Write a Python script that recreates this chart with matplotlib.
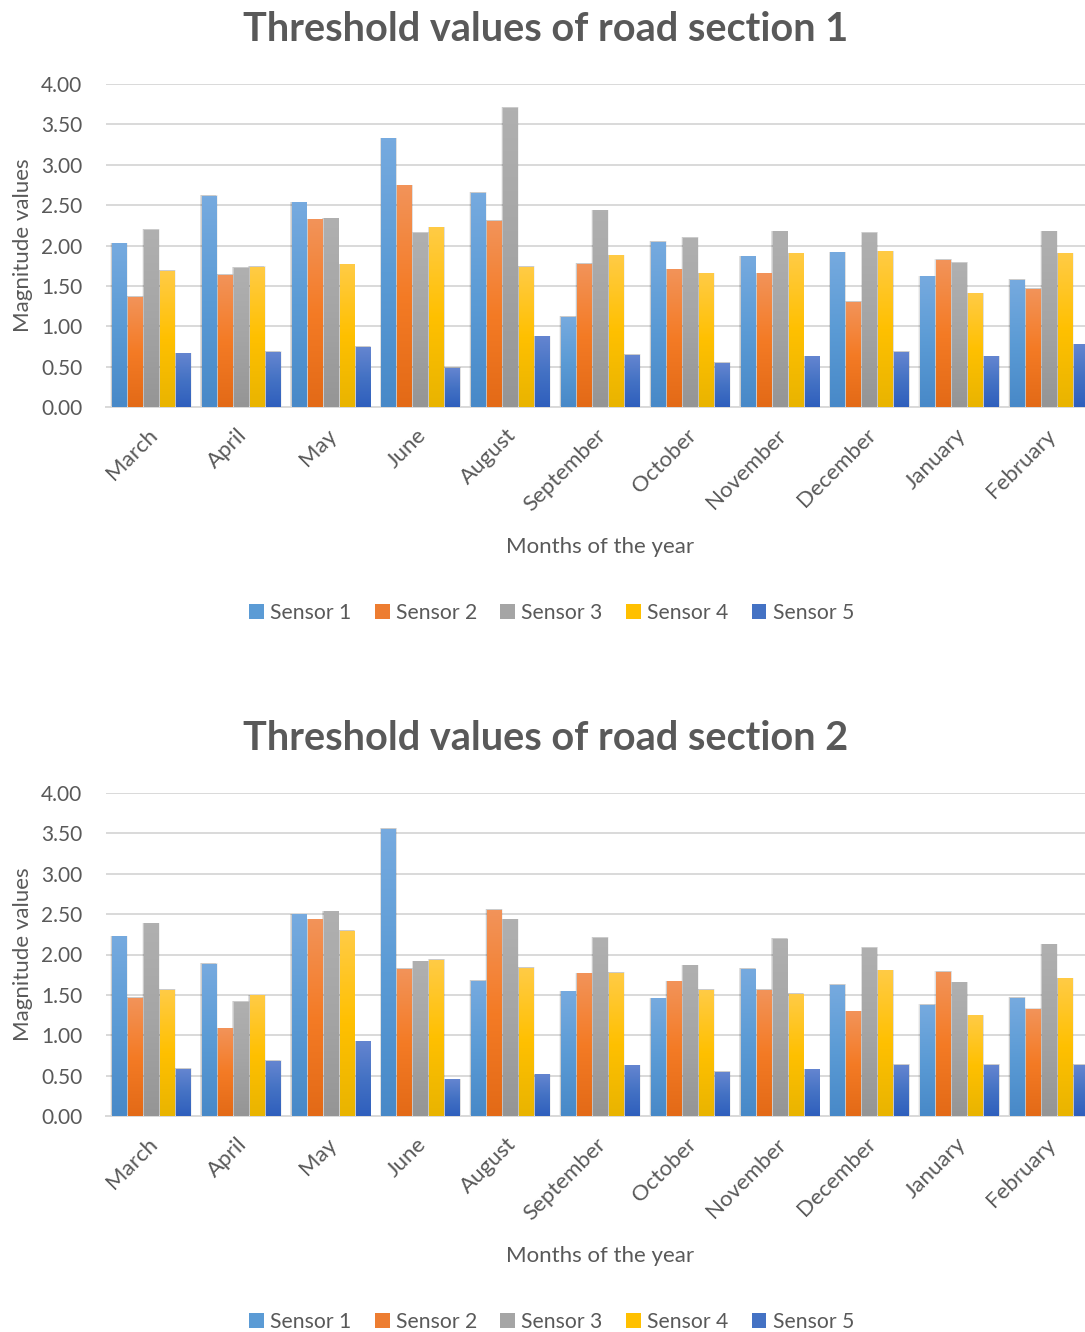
import numpy as np
import matplotlib
matplotlib.use("Agg")
import matplotlib.pyplot as plt
from matplotlib.colors import LinearSegmentedColormap
from matplotlib.patches import Patch
from matplotlib.transforms import ScaledTranslation

plt.rcParams['font.family'] = ['Lato', 'DejaVu Sans']

months = ["March", "April", "May", "June", "August", "September",
          "October", "November", "December", "January", "February"]
sensors = ["Sensor 1", "Sensor 2", "Sensor 3", "Sensor 4", "Sensor 5"]

# road section 1, one list per sensor (same month order as above)
sec1_s1 = [2.02, 2.61, 2.53, 3.32, 2.65, 1.11, 2.04, 1.86, 1.91, 1.61, 1.57]
sec1_s2 = [1.36, 1.63, 2.32, 2.74, 2.30, 1.77, 1.70, 1.65, 1.30, 1.82, 1.46]
sec1_s3 = [2.19, 1.72, 2.33, 2.15, 3.70, 2.43, 2.09, 2.17, 2.15, 1.78, 2.17]
sec1_s4 = [1.68, 1.73, 1.76, 2.22, 1.73, 1.87, 1.65, 1.90, 1.92, 1.40, 1.90]
sec1_s5 = [0.66, 0.68, 0.74, 0.48, 0.87, 0.64, 0.54, 0.62, 0.68, 0.62, 0.77]

# road section 2
sec2_s1 = [2.22, 1.88, 2.49, 3.55, 1.67, 1.54, 1.45, 1.82, 1.62, 1.37, 1.46]
sec2_s2 = [1.46, 1.08, 2.43, 1.82, 2.55, 1.76, 1.66, 1.56, 1.29, 1.78, 1.32]
sec2_s3 = [2.38, 1.41, 2.53, 1.91, 2.43, 2.20, 1.86, 2.19, 2.08, 1.65, 2.12]
sec2_s4 = [1.56, 1.49, 2.29, 1.93, 1.83, 1.77, 1.56, 1.51, 1.80, 1.24, 1.70]
sec2_s5 = [0.58, 0.68, 0.92, 0.45, 0.51, 0.62, 0.54, 0.57, 0.63, 0.63, 0.63]

# (top, mid, bottom) shades for the Office-style gradient fill
shades = [("#76aadf", "#5b9bd5", "#4889c8"),
          ("#f29359", "#f47b25", "#e36a17"),
          ("#b0b0b0", "#a5a5a5", "#959595"),
          ("#ffcb45", "#ffc000", "#e9b400"),
          ("#6485d0", "#4472c4", "#2f5fbd")]
legend_colors = ["#5b9bd5", "#ed7d31", "#a5a5a5", "#ffc000", "#4472c4"]
text_gray = "#595959"
grid_gray = "#d9d9d9"

step = 16 / 89.8
width = 14 / 89.8
grad = np.linspace(1, 0, 64).reshape(-1, 1)


def draw_section(fig, ax, title, series):
    x = np.arange(len(months))
    for k, vals in enumerate(series):
        cmap = LinearSegmentedColormap.from_list("s%d" % k, list(shades[k])[::-1])
        xs = x + (k - 2) * step
        for xi, v in zip(xs, vals):
            x0, x1 = xi - width / 2, xi + width / 2
            # soft shadow around the bar
            for g, a in ((0.05, 0.05), (0.035, 0.07), (0.02, 0.09)):
                ax.add_patch(plt.Rectangle((x0 - g * 0.4, 0), width + g * 0.8, v + g * 0.06 + 0.01,
                                           color="black", alpha=a, lw=0, zorder=2))
            ax.imshow(grad, cmap=cmap, extent=(x0, x1, 0, v), aspect="auto",
                      interpolation="bicubic", zorder=3, vmin=0, vmax=1)
    ax.set_xlim(-0.5, len(months) - 0.5)
    ax.set_ylim(0, 4.0)
    ax.set_yticks(np.arange(0, 4.01, 0.5))
    ax.set_yticklabels(["%.2f" % t for t in np.arange(0, 4.01, 0.5)],
                       fontsize=15, color=text_gray)
    ax.yaxis.grid(True, color=grid_gray, lw=1.4, zorder=0)
    ax.set_axisbelow(True)
    ax.tick_params(length=0, pad=17)
    ax.tick_params(axis="x", pad=13)
    ax.set_xticks(x)
    ax.set_xticklabels(months, rotation=45, ha="right", rotation_mode="anchor",
                       fontsize=16, color=text_gray)
    shift = ScaledTranslation(-4 / 100, 0, fig.dpi_scale_trans)
    for lab in ax.get_xticklabels():
        lab.set_transform(lab.get_transform() + shift)
    for sp in ("top", "right", "left"):
        ax.spines[sp].set_visible(False)
    ax.spines["bottom"].set_color(grid_gray)
    ax.spines["bottom"].set_linewidth(1.4)
    ax.set_xlabel("Months of the year", fontsize=16, color=text_gray, labelpad=16)
    ax.set_ylabel("Magnitude values", fontsize=16, color=text_gray, labelpad=6)
    ax.set_title(title, fontsize=28.5, fontweight="bold", color=text_gray, pad=31,
                 x=0.445)
    handles = [Patch(facecolor=c) for c in legend_colors]
    ax.legend(handles, sensors, loc="center", bbox_to_anchor=(0.451, -0.637),
              ncol=5, frameon=False, fontsize=15.2, labelcolor=text_gray,
              handlelength=0.7, handleheight=0.7, handletextpad=0.3,
              columnspacing=1.1)


fig = plt.figure(figsize=(10.85, 13.32), dpi=100)
ax1 = fig.add_axes([106 / 1085, 1 - 407 / 1332, 988 / 1085, 323 / 1332])
ax2 = fig.add_axes([106 / 1085, 1 - 1116 / 1332, 988 / 1085, 323 / 1332])

draw_section(fig, ax1, "Threshold values of road section 1",
             [sec1_s1, sec1_s2, sec1_s3, sec1_s4, sec1_s5])
draw_section(fig, ax2, "Threshold values of road section 2",
             [sec2_s1, sec2_s2, sec2_s3, sec2_s4, sec2_s5])

fig.savefig("out.png", dpi=100)
